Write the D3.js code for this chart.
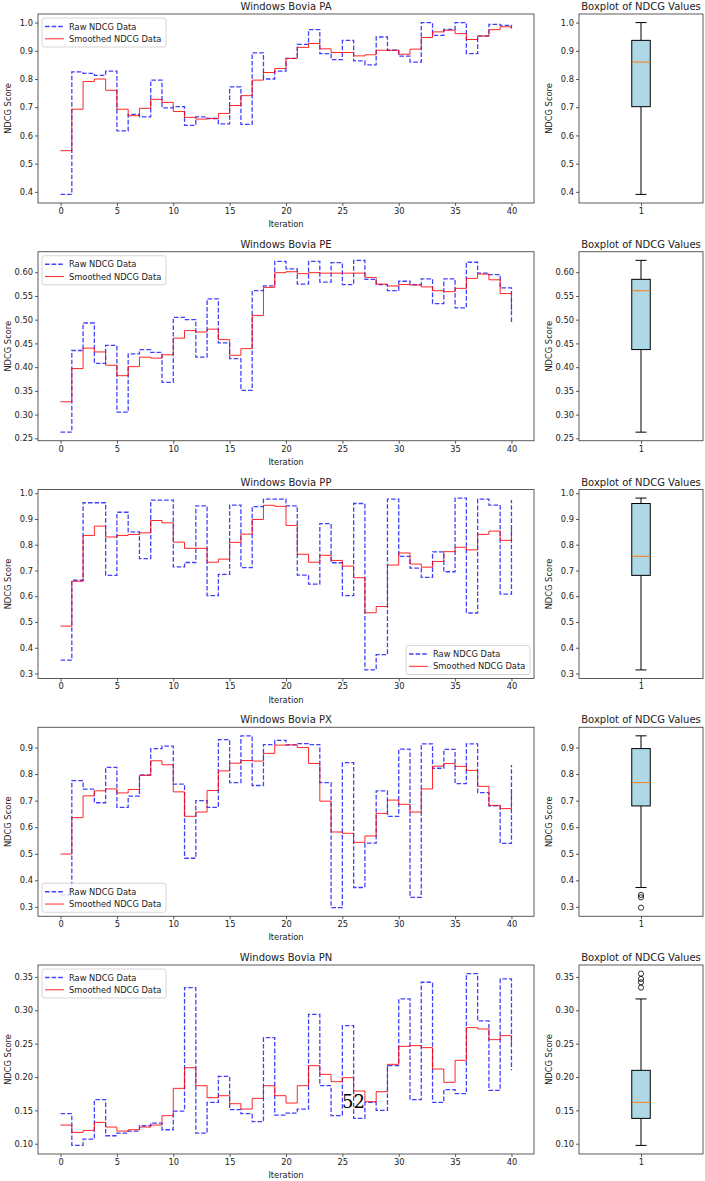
<!DOCTYPE html>
<html>
<head>
<meta charset="utf-8">
<script src="https://cdn.jsdelivr.net/npm/d3@7"></script>
<style>
  body { margin: 0; background: #fff; }
  text { font-family: "DejaVu Sans", sans-serif; fill: #222; }
</style>
</head>
<body>
<svg id="chart" width="705" height="1181"></svg>
<script>
// NDCG values, iterations 0..40
const iterations = d3.range(0, 41);

const paRaw = [0.391, 0.825, 0.82, 0.813, 0.828, 0.616, 0.675, 0.666, 0.796, 0.698, 0.702, 0.636, 0.666, 0.66, 0.641, 0.772, 0.639, 0.893, 0.80, 0.828, 0.873, 0.923, 0.975, 0.89, 0.869, 0.937, 0.864, 0.85, 0.949, 0.902, 0.881, 0.86, 1.0, 0.955, 0.976, 1.0, 0.89, 0.953, 0.994, 0.99, 0.98];
const paSmooth = [0.546, 0.693, 0.791, 0.80, 0.76, 0.693, 0.67, 0.696, 0.728, 0.717, 0.685, 0.664, 0.658, 0.66, 0.678, 0.706, 0.741, 0.796, 0.823, 0.837, 0.873, 0.912, 0.926, 0.907, 0.894, 0.894, 0.882, 0.886, 0.902, 0.902, 0.888, 0.906, 0.947, 0.967, 0.973, 0.961, 0.94, 0.952, 0.975, 0.985, 0.98];

const peRaw = [0.263, 0.435, 0.493, 0.408, 0.446, 0.305, 0.428, 0.437, 0.431, 0.368, 0.505, 0.50, 0.421, 0.544, 0.451, 0.418, 0.351, 0.561, 0.571, 0.623, 0.607, 0.575, 0.623, 0.579, 0.62, 0.574, 0.625, 0.585, 0.574, 0.561, 0.581, 0.574, 0.586, 0.534, 0.586, 0.525, 0.621, 0.598, 0.595, 0.567, 0.493];
const peSmooth = [0.327, 0.397, 0.44, 0.432, 0.404, 0.382, 0.401, 0.421, 0.419, 0.426, 0.461, 0.477, 0.474, 0.48, 0.458, 0.425, 0.439, 0.509, 0.568, 0.599, 0.601, 0.597, 0.599, 0.598, 0.598, 0.598, 0.598, 0.589, 0.575, 0.571, 0.574, 0.573, 0.569, 0.561, 0.559, 0.566, 0.587, 0.596, 0.584, 0.555, 0.52];

const ppRaw = [0.352, 0.662, 0.963, 0.963, 0.681, 0.926, 0.85, 0.746, 0.973, 0.973, 0.714, 0.731, 0.951, 0.602, 0.685, 0.954, 0.711, 0.948, 0.977, 0.977, 0.951, 0.682, 0.647, 0.882, 0.73, 0.602, 0.96, 0.314, 0.373, 0.977, 0.755, 0.709, 0.673, 0.772, 0.695, 0.981, 0.535, 0.977, 0.954, 0.608, 0.974];
const ppSmooth = [0.484, 0.658, 0.836, 0.872, 0.83, 0.836, 0.84, 0.846, 0.894, 0.885, 0.81, 0.786, 0.786, 0.732, 0.744, 0.809, 0.841, 0.898, 0.953, 0.949, 0.875, 0.763, 0.732, 0.759, 0.739, 0.717, 0.672, 0.536, 0.56, 0.721, 0.768, 0.725, 0.713, 0.735, 0.773, 0.79, 0.78, 0.84, 0.853, 0.817, 0.863];

const pxRaw = [0.345, 0.775, 0.743, 0.692, 0.825, 0.675, 0.717, 0.797, 0.896, 0.905, 0.762, 0.483, 0.70, 0.675, 0.93, 0.768, 0.944, 0.757, 0.911, 0.927, 0.91, 0.915, 0.911, 0.768, 0.297, 0.843, 0.373, 0.54, 0.737, 0.641, 0.894, 0.336, 0.914, 0.822, 0.893, 0.764, 0.914, 0.73, 0.68, 0.539, 0.834];
const pxSmooth = [0.499, 0.636, 0.718, 0.737, 0.744, 0.729, 0.742, 0.795, 0.85, 0.835, 0.733, 0.641, 0.657, 0.738, 0.812, 0.841, 0.851, 0.849, 0.878, 0.909, 0.91, 0.90, 0.84, 0.698, 0.582, 0.577, 0.543, 0.567, 0.652, 0.702, 0.686, 0.657, 0.744, 0.83, 0.84, 0.829, 0.814, 0.754, 0.682, 0.67, 0.737];

const pnRaw = [0.145, 0.0975, 0.107, 0.166, 0.112, 0.116, 0.119, 0.127, 0.131, 0.121, 0.149, 0.334, 0.116, 0.162, 0.201, 0.151, 0.145, 0.133, 0.259, 0.143, 0.146, 0.152, 0.294, 0.187, 0.142, 0.277, 0.138, 0.162, 0.15, 0.217, 0.317, 0.166, 0.342, 0.162, 0.181, 0.175, 0.355, 0.284, 0.18, 0.347, 0.21];
const pnSmooth = [0.128, 0.117, 0.12, 0.132, 0.125, 0.119, 0.121, 0.125, 0.128, 0.142, 0.183, 0.214, 0.187, 0.169, 0.172, 0.16, 0.152, 0.168, 0.187, 0.172, 0.161, 0.187, 0.217, 0.204, 0.193, 0.199, 0.179, 0.163, 0.178, 0.219, 0.246, 0.247, 0.244, 0.212, 0.192, 0.225, 0.274, 0.272, 0.256, 0.262, 0.248];

const panelNames = ["PA", "PE", "PP", "PX", "PN"];
const xTicks = [0, 5, 10, 15, 20, 25, 30, 35, 40];
const yTicksPA = [0.4, 0.5, 0.6, 0.7, 0.8, 0.9, 1.0];
const yTicksPE = [0.25, 0.30, 0.35, 0.40, 0.45, 0.50, 0.55, 0.60];
const yTicksPP = [0.3, 0.4, 0.5, 0.6, 0.7, 0.8, 0.9, 1.0];
const yTicksPX = [0.3, 0.4, 0.5, 0.6, 0.7, 0.8, 0.9];
const yTicksPN = [0.10, 0.15, 0.20, 0.25, 0.30, 0.35];
const legendLabels = ["Raw NDCG Data", "Smoothed NDCG Data"];

const panels = [
  {name: "PA", raw: paRaw, smooth: paSmooth, ticks: yTicksPA, fmt: ".1f", legend: "ul"},
  {name: "PE", raw: peRaw, smooth: peSmooth, ticks: yTicksPE, fmt: ".2f", legend: "ul"},
  {name: "PP", raw: ppRaw, smooth: ppSmooth, ticks: yTicksPP, fmt: ".1f", legend: "lr"},
  {name: "PX", raw: pxRaw, smooth: pxSmooth, ticks: yTicksPX, fmt: ".1f", legend: "ll"},
  {name: "PN", raw: pnRaw, smooth: pnSmooth, ticks: yTicksPN, fmt: ".2f", legend: "ul"}
];

const svg = d3.select("#chart");
const mainLeft = 38, mainRight = 534;
const boxLeft = 579, boxRight = 703;
const panelH = 189;
const fs = 8.3;

const x = d3.scaleLinear().domain([-2, 42]).range([mainLeft, mainRight]);
const bx = d3.scaleLinear().domain([0.5, 1.5]).range([boxLeft, boxRight]);

const blue = "#0000ff", red = "#ff0000";

panels.forEach((p, k) => {
  const top = 14 + k * 237.75;
  const bottom = top + panelH;
  const all = p.raw.concat(p.smooth);
  const lo = d3.min(all), hi = d3.max(all);
  const pad = (hi - lo) * 0.05;
  const y = d3.scaleLinear().domain([lo - pad, hi + pad]).range([bottom, top]);

  const g = svg.append("g");

  // step lines
  const line = d3.line()
    .curve(d3.curveStepAfter)
    .x((d, i) => x(iterations[i]))
    .y(d => y(d));

  g.append("path")
    .attr("d", line(p.raw))
    .attr("fill", "none")
    .attr("stroke", blue)
    .attr("stroke-opacity", 0.75)
    .attr("stroke-width", 1.3)
    .attr("stroke-dasharray", "4.6,2");

  g.append("path")
    .attr("d", line(p.smooth))
    .attr("fill", "none")
    .attr("stroke", red)
    .attr("stroke-opacity", 0.85)
    .attr("stroke-width", 1);

  // axes
  const xAxis = d3.axisBottom(x).tickValues(xTicks).tickSize(3).tickPadding(2);
  const yAxis = d3.axisLeft(y).tickValues(p.ticks).tickFormat(d3.format(p.fmt)).tickSize(3).tickPadding(2);

  g.append("g").attr("transform", `translate(0,${bottom})`).call(xAxis);
  g.append("g").attr("transform", `translate(${mainLeft},0)`).call(yAxis);

  g.append("rect")
    .attr("x", mainLeft).attr("y", top)
    .attr("width", mainRight - mainLeft).attr("height", panelH)
    .attr("fill", "none").attr("stroke", "#333").attr("stroke-width", 0.8);

  g.append("text")
    .attr("x", (mainLeft + mainRight) / 2).attr("y", top - 4)
    .attr("text-anchor", "middle").attr("font-size", 10)
    .text(`Windows Bovia ${p.name}`);

  g.append("text")
    .attr("x", (mainLeft + mainRight) / 2).attr("y", bottom + 24)
    .attr("text-anchor", "middle").attr("font-size", fs)
    .text("Iteration");

  g.append("text")
    .attr("transform", `translate(11,${(top + bottom) / 2}) rotate(-90)`)
    .attr("text-anchor", "middle").attr("font-size", fs)
    .text("NDCG Score");

  // legend
  const lw = 124, lh = 29;
  let lx = mainLeft + 4, ly = top + 4;
  if (p.legend === "lr") { lx = mainRight - 4 - lw; ly = bottom - 4 - lh; }
  if (p.legend === "ll") { ly = bottom - 4 - lh; }
  const lg = g.append("g").attr("transform", `translate(${lx},${ly})`);
  lg.append("rect").attr("width", lw).attr("height", lh).attr("rx", 2)
    .attr("fill", "#fff").attr("fill-opacity", 0.8)
    .attr("stroke", "#ccc").attr("stroke-width", 0.8);
  legendLabels.forEach((lab, i) => {
    const cy = 8.5 + i * 12.3;
    lg.append("line").attr("x1", 3).attr("x2", 22).attr("y1", cy).attr("y2", cy)
      .attr("stroke", i === 0 ? blue : red)
      .attr("stroke-opacity", i === 0 ? 0.75 : 0.85)
      .attr("stroke-width", i === 0 ? 1.3 : 1)
      .attr("stroke-dasharray", i === 0 ? "4.6,2" : null);
    lg.append("text").attr("x", 27).attr("y", cy + 3).attr("font-size", fs).text(lab);
  });

  // boxplot of the raw values
  const sorted = p.raw.slice().sort(d3.ascending);
  const q1 = d3.quantile(sorted, 0.25);
  const med = d3.quantile(sorted, 0.5);
  const q3 = d3.quantile(sorted, 0.75);
  const iqr = q3 - q1;
  const wLo = d3.min(sorted.filter(v => v >= q1 - 1.5 * iqr));
  const wHi = d3.max(sorted.filter(v => v <= q3 + 1.5 * iqr));
  const fliers = sorted.filter(v => v < wLo || v > wHi);

  const bg = svg.append("g");
  const cx = bx(1);
  const boxW = 18.5, capW = 11;

  bg.append("line").attr("x1", cx).attr("x2", cx).attr("y1", y(wLo)).attr("y2", y(q1))
    .attr("stroke", "#000").attr("stroke-width", 1);
  bg.append("line").attr("x1", cx).attr("x2", cx).attr("y1", y(q3)).attr("y2", y(wHi))
    .attr("stroke", "#000").attr("stroke-width", 1);
  [wLo, wHi].forEach(v => {
    bg.append("line").attr("x1", cx - capW / 2).attr("x2", cx + capW / 2)
      .attr("y1", y(v)).attr("y2", y(v)).attr("stroke", "#000").attr("stroke-width", 1);
  });
  bg.append("rect").attr("x", cx - boxW / 2).attr("y", y(q3))
    .attr("width", boxW).attr("height", y(q1) - y(q3))
    .attr("fill", "#add8e6").attr("stroke", "#000").attr("stroke-width", 1);
  bg.append("line").attr("x1", cx - boxW / 2).attr("x2", cx + boxW / 2)
    .attr("y1", y(med)).attr("y2", y(med)).attr("stroke", "#ff7f0e").attr("stroke-width", 1);
  bg.selectAll("circle.flier").data(fliers).join("circle")
    .attr("class", "flier")
    .attr("cx", cx).attr("cy", d => y(d)).attr("r", 2.6)
    .attr("fill", "none").attr("stroke", "#000").attr("stroke-width", 0.8);

  bg.append("g").attr("transform", `translate(0,${bottom})`)
    .call(d3.axisBottom(bx).tickValues([1]).tickFormat(d3.format("d")).tickSize(3).tickPadding(2));
  bg.append("g").attr("transform", `translate(${boxLeft},0)`)
    .call(d3.axisLeft(y).tickValues(p.ticks).tickFormat(d3.format(p.fmt)).tickSize(3).tickPadding(2));
  bg.append("rect")
    .attr("x", boxLeft).attr("y", top)
    .attr("width", boxRight - boxLeft).attr("height", panelH)
    .attr("fill", "none").attr("stroke", "#333").attr("stroke-width", 0.8);
  bg.append("text")
    .attr("x", (boxLeft + boxRight) / 2).attr("y", top - 4)
    .attr("text-anchor", "middle").attr("font-size", 10)
    .text("Boxplot of NDCG Values");
  bg.append("text")
    .attr("transform", `translate(552,${(top + bottom) / 2}) rotate(-90)`)
    .attr("text-anchor", "middle").attr("font-size", fs)
    .text("NDCG Score");
});

// axis styling
svg.selectAll(".domain").remove();
svg.selectAll(".tick line").attr("stroke", "#333").attr("stroke-width", 0.8);
svg.selectAll(".tick text").attr("font-size", fs).style("fill", "#222")
  .style("font-family", "'DejaVu Sans', sans-serif");

// page number printed over the figure
svg.append("text")
  .attr("x", 342).attr("y", 1108)
  .style("font-family", "'DejaVu Serif', 'Liberation Serif', serif")
  .attr("font-size", 18)
  .style("fill", "#000")
  .text("52");
</script>
</body>
</html>
